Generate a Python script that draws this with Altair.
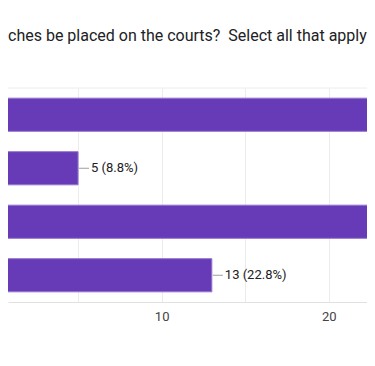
import altair as alt
import pandas as pd

categories = ["Between the courts", "Behind the baseline", "Along the fence", "Near the entrance"]
counts = [26, 5, 24, 13]
labels = ["26 (45.6%)", "5 (8.8%)", "24 (42.1%)", "13 (22.8%)"]
title_text = "ches be placed on the courts?\u00a0 Select all that apply"
x_ticks = [5, 10, 15, 20]

df = pd.DataFrame({"cat": categories, "count": counts, "label": labels})

W, H = 359, 214
xscale = alt.Scale(domain=[0.81, 22.28], nice=False, zero=False)
yscale = alt.Scale(domain=categories, paddingInner=0.38, paddingOuter=0.19)

base = alt.Chart(df)

bars = base.mark_bar(clip=True, color="#673AB7", stroke="#9575CD", strokeWidth=1).encode(
    x=alt.X("count:Q", scale=xscale, stack=None,
            axis=alt.Axis(values=x_ticks,
                          labelExpr="datum.value % 10 == 0 ? datum.label : ''",
                          grid=True, gridColor="#ececec", domainColor="#e0e0e0",
                          ticks=False, labelFont="Roboto", labelFontSize=13,
                          labelColor="#444444", labelPadding=8, title=None)),
    x2=alt.datum(0),
    y=alt.Y("cat:N", scale=yscale, sort=categories, axis=None),
)

visible = base.transform_filter("datum.count < 20")

leaders = visible.mark_rule(clip=True, color="#9e9e9e", xOffset=1, x2Offset=11).encode(
    x=alt.X("count:Q", scale=xscale),
    x2="count:Q",
    y=alt.Y("cat:N", scale=yscale, sort=categories),
)

texts = visible.mark_text(align="left", baseline="middle", dx=13,
                          font="Roboto", fontSize=13, color="#212121").encode(
    x=alt.X("count:Q", scale=xscale),
    y=alt.Y("cat:N", scale=yscale, sort=categories),
    text="label:N",
)

top_line = alt.Chart(pd.DataFrame({"a": [0]})).mark_rule(color="#ececec").encode(
    x=alt.value(0), x2=alt.value(W), y=alt.value(0)
)

title = alt.Chart(pd.DataFrame({"t": [title_text]})).mark_text(
    align="left", baseline="middle", font="Roboto", fontSize=16, color="#202124"
).encode(x=alt.value(0), y=alt.value(-52), text="t:N")

chart = alt.layer(top_line, bars, leaders, texts, title).properties(
    width=W, height=H, autosize="none",
    padding={"left": 0, "top": 80, "right": 0, "bottom": 50},
).configure_view(stroke=None)

chart.save("out.html", embed_options={"renderer": "svg", "actions": False})
